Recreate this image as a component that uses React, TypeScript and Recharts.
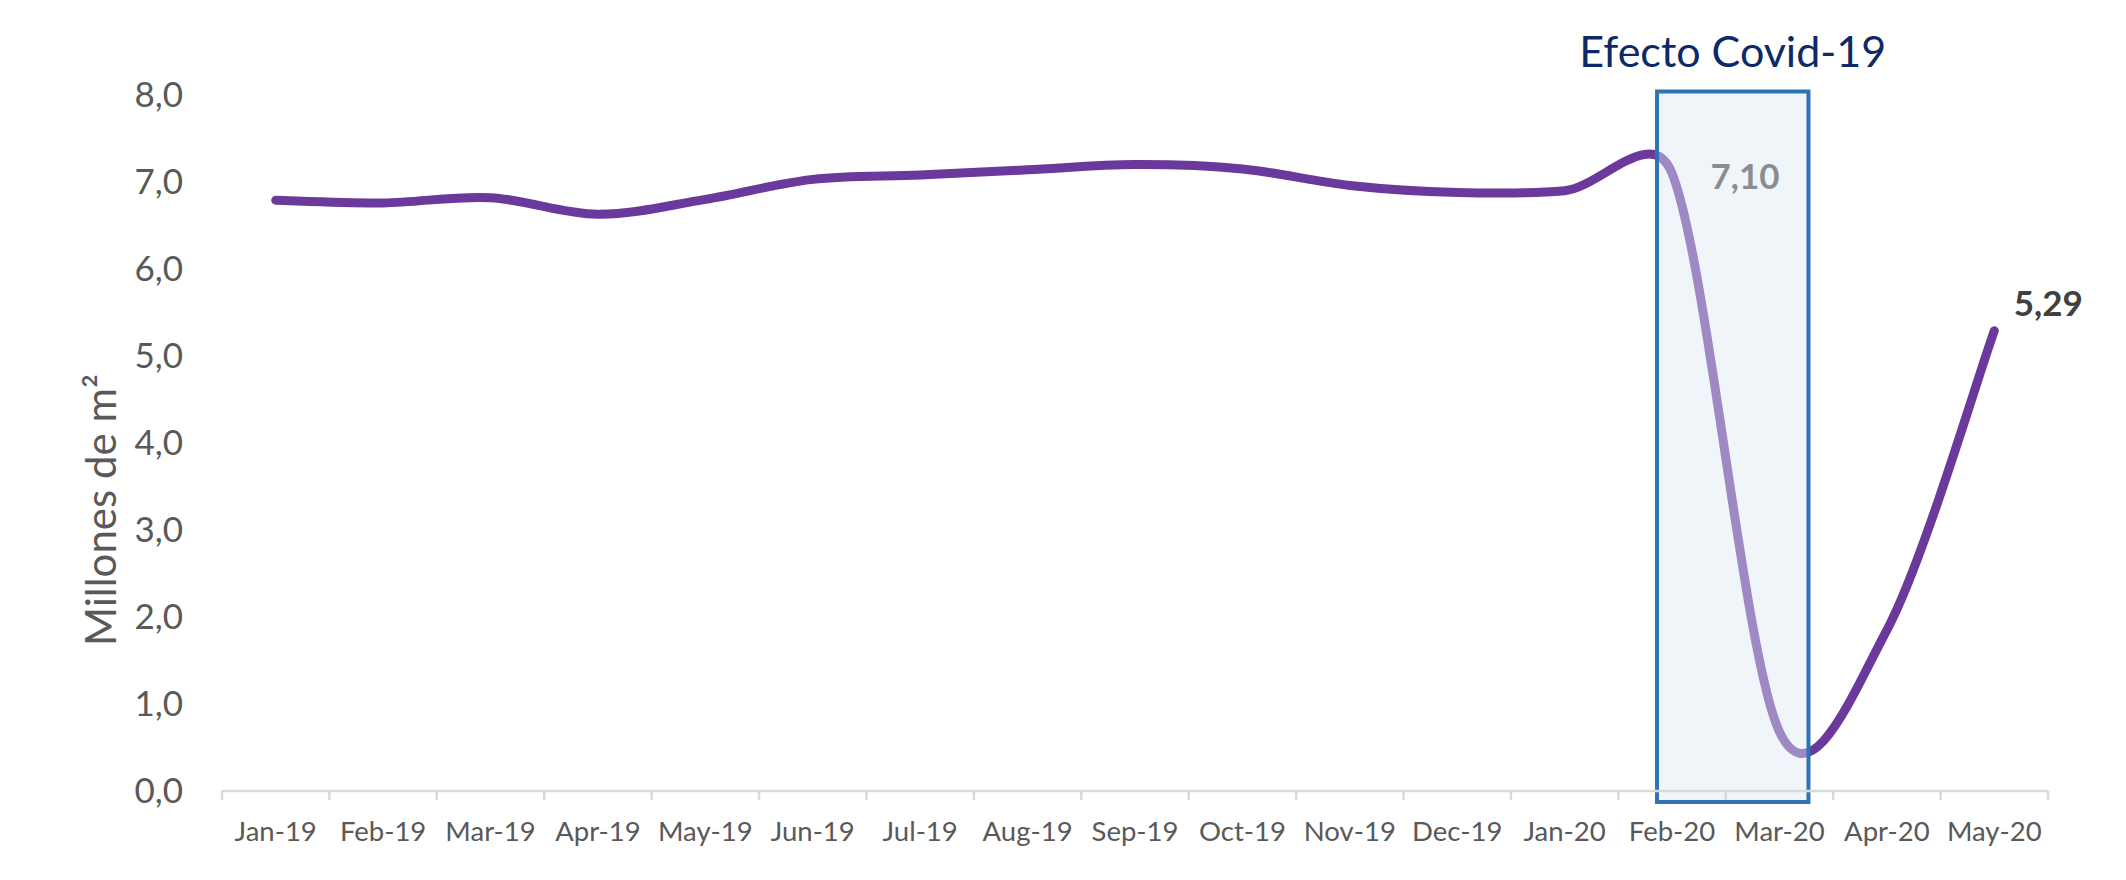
import React from 'react';
import { LineChart, Line, XAxis, YAxis, ReferenceArea, LabelList } from 'recharts';

const MONTHS = [
  'Jan-19', 'Feb-19', 'Mar-19', 'Apr-19', 'May-19', 'Jun-19', 'Jul-19', 'Aug-19', 'Sep-19',
  'Oct-19', 'Nov-19', 'Dec-19', 'Jan-20', 'Feb-20', 'Mar-20', 'Apr-20', 'May-20',
];
// millones de m2
const SURFACE = [6.79, 6.76, 6.82, 6.63, 6.8, 7.03, 7.08, 7.14, 7.2, 7.15, 6.96, 6.88, 6.9, 7.1, 0.68, 1.85, 5.29];
const Y_TICKS = [0, 1, 2, 3, 4, 5, 6, 7, 8];
// months that carry a value label
const LABELLED = [13, 16];
// covid shaded window, in month-index units
const COVID_FROM = 12.86;
const COVID_TO = 14.27;

const data = MONTHS.map((month, idx) => ({ idx, month, value: SURFACE[idx] }));

const FONT = 'Lato, "Open Sans", sans-serif';
const W = 2126;
const H = 880;
const LEFT = 222;
const RIGHT = 78;
const TOP = 95;
const BOTTOM = 89;
const BAND = (W - LEFT - RIGHT) / MONTHS.length;
const AXIS_GREY = '#d9d9d9';
const TEXT_GREY = '#595959';

const fmt = (v: number, digits: number) => v.toFixed(digits).replace('.', ',');

// Excel-style smoothed line: cubic beziers with 1/6 tangents,
// control arms clamped to half of the segment length
function excelSmooth(context: any) {
  let pts: number[][] = [];
  const dist = (a: number[], b: number[]) => Math.hypot(b[0] - a[0], b[1] - a[1]);
  return {
    areaStart() {},
    areaEnd() {},
    lineStart() {
      pts = [];
    },
    point(x: number, y: number) {
      pts.push([+x, +y]);
    },
    lineEnd() {
      const n = pts.length;
      if (!n) return;
      context.moveTo(pts[0][0], pts[0][1]);
      for (let i = 0; i < n - 1; i++) {
        const p0 = pts[Math.max(i - 1, 0)];
        const p1 = pts[i];
        const p2 = pts[i + 1];
        const p3 = pts[Math.min(i + 2, n - 1)];
        const d12 = dist(p1, p2);
        const d02 = dist(p0, p2);
        const d13 = dist(p1, p3);
        const f1 = d02 === 0 ? 0 : d02 / 6 < d12 / 2 ? 1 / 6 : d12 / (2 * d02);
        const f2 = d13 === 0 ? 0 : d13 / 6 < d12 / 2 ? 1 / 6 : d12 / (2 * d13);
        context.bezierCurveTo(
          p1[0] + f1 * (p2[0] - p0[0]),
          p1[1] + f1 * (p2[1] - p0[1]),
          p2[0] - f2 * (p3[0] - p1[0]),
          p2[1] - f2 * (p3[1] - p1[1]),
          p2[0],
          p2[1],
        );
      }
    },
  };
}

const MonthTick = (props: any) => {
  const { x, y, payload } = props;
  const half = BAND / 2;
  const last = payload.value === MONTHS.length - 1;
  return (
    <g>
      <line x1={x - half} x2={x - half} y1={y} y2={y + 9} stroke={AXIS_GREY} strokeWidth={2.5} />
      {last && <line x1={x + half} x2={x + half} y1={y} y2={y + 9} stroke={AXIS_GREY} strokeWidth={2.5} />}
      <text x={x} y={y + 50} textAnchor="middle" fontSize={27.5} fontFamily={FONT} fill={TEXT_GREY}>
        {MONTHS[payload.value]}
      </text>
    </g>
  );
};

const LABEL_OFFSETS: Record<number, [number, number]> = {
  13: [73, 2],
  16: [54, -29],
};

const ValueLabel = (props: any) => {
  const { x, y, value, index } = props;
  if (!LABELLED.includes(index)) return null;
  const [dx, dy] = LABEL_OFFSETS[index];
  return (
    <text
      x={x + dx}
      y={y + dy}
      textAnchor="middle"
      dominantBaseline="central"
      fontSize={35}
      fontWeight={700}
      fontFamily={FONT}
      fill="#404040"
    >
      {fmt(value, 2)}
    </text>
  );
};

export default function App() {
  return (
    <div style={{ position: 'absolute', left: 0, top: 0, width: W, height: H, background: '#fff' }}>
      <LineChart width={W} height={H} data={data} margin={{ top: TOP, right: RIGHT, bottom: 0, left: 0 }}>
        <XAxis
          dataKey="idx"
          type="number"
          domain={[-0.5, MONTHS.length - 0.5]}
          ticks={data.map((d) => d.idx)}
          interval={0}
          height={BOTTOM}
          axisLine={{ stroke: AXIS_GREY, strokeWidth: 2.5 }}
          tickLine={false}
          tickSize={0}
          tickMargin={0}
          tick={<MonthTick />}
        />
        <YAxis
          domain={[0, 8]}
          ticks={Y_TICKS}
          interval={0}
          width={LEFT}
          axisLine={false}
          tickLine={false}
          tickSize={0}
          tickMargin={39}
          tickFormatter={(v: number) => fmt(v, 1)}
          tick={{ fontSize: 35, fontFamily: FONT, fill: TEXT_GREY }}
          label={{
            content: () => (
              <text
                x={100}
                y={510}
                transform="rotate(-90, 100, 510)"
                textAnchor="middle"
                dominantBaseline="central"
                fontSize={42}
                fontFamily={FONT}
                fill={TEXT_GREY}
              >
                Millones de m²
              </text>
            ),
          }}
        />
        <Line
          dataKey="value"
          type={excelSmooth as any}
          stroke="#6a399b"
          strokeWidth={9}
          strokeLinecap="round"
          dot={false}
          activeDot={false}
          isAnimationActive={false}
        >
          <LabelList dataKey="value" content={<ValueLabel />} zIndex={420} />
        </Line>
        <ReferenceArea
          x1={COVID_FROM}
          x2={COVID_TO}
          y1={-0.126}
          y2={8.04}
          ifOverflow="visible"
          fill="rgb(223,234,244)"
          fillOpacity={0.46}
          stroke="#2e74b5"
          strokeWidth={4}
          zIndex={450}
          label={{
            value: 'Efecto Covid-19',
            position: 'top',
            offset: 25,
            fill: '#0d2a66',
            fontSize: 43,
            fontFamily: FONT,
          }}
        />
      </LineChart>
    </div>
  );
}
